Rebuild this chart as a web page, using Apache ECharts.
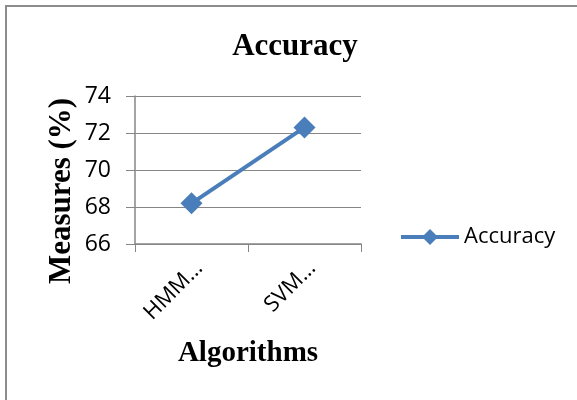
<!DOCTYPE html>
<html>
<head>
<meta charset="utf-8">
<script src="https://cdn.jsdelivr.net/npm/echarts@6/dist/echarts.min.js"></script>
<style>html,body{margin:0;padding:0;background:#fff}#c{width:577px;height:400px}</style>
</head>
<body>
<div id="c"></div>
<script>
var categories = ['HMM…', 'SVM…'];
var accuracy = [68.2, 72.3];
var yTicks = { min: 66, max: 74, interval: 2 };
var seriesName = 'Accuracy';
var chartTitle = 'Accuracy';
var xName = 'Algorithms';
var yName = 'Measures (%)';

var chart = echarts.init(document.getElementById('c'), null, { renderer: 'canvas' });
var serif = '"Liberation Serif", "Times New Roman", serif';
var sans = '"Open Sans", "Liberation Sans", sans-serif';
chart.setOption({
  animation: false,
  backgroundColor: '#fff',
  graphic: [{
    type: 'rect', x: 0, y: 0,
    shape: { x: 6, y: 6, width: 620, height: 440 },
    style: { fill: 'none', stroke: '#8c8c8c', lineWidth: 2 }
  }, {
    type: 'text', x: 62, y: 191, rotation: Math.PI / 2,
    style: {
      text: yName, fontFamily: serif, fontWeight: 'bold', fontSize: 31, fill: '#000',
      align: 'center', verticalAlign: 'middle'
    }
  }],
  title: {
    text: chartTitle, left: 290, top: 26, textAlign: 'center',
    textStyle: { fontFamily: serif, fontWeight: 'bold', fontSize: 31, color: '#000' }
  },
  legend: {
    data: [seriesName], left: 394, top: 221, itemWidth: 58, itemHeight: 20, itemGap: 2,
    lineStyle: { width: 4 },
    textStyle: { fontFamily: sans, fontSize: 22, color: '#000' }
  },
  grid: { left: 135, right: 216, top: 96, bottom: 156, containLabel: false },
  xAxis: {
    type: 'category', data: categories, boundaryGap: true,
    name: xName, nameLocation: 'middle', nameGap: 95,
    nameTextStyle: { fontFamily: serif, fontWeight: 'bold', fontSize: 29, color: '#000' },
    axisLine: { lineStyle: { color: '#868686', width: 1.5 } },
    axisTick: { show: true, length: 8, inside: false, lineStyle: { color: '#868686' } },
    axisLabel: { rotate: 45, fontFamily: sans, fontSize: 22, color: '#000', margin: 13, verticalAlign: 'top' }
  },
  yAxis: {
    type: 'value', min: yTicks.min, max: yTicks.max, interval: yTicks.interval,
    axisLine: { show: true, lineStyle: { color: '#868686', width: 1.5 } },
    axisTick: { show: true, length: 9, inside: false, lineStyle: { color: '#868686' } },
    axisLabel: { fontFamily: sans, fontSize: 23, color: '#000', margin: 24 },
    splitLine: { show: true, lineStyle: { color: '#868686', width: 1 } }
  },
  series: [{
    name: seriesName, type: 'line', data: accuracy,
    symbol: 'diamond', symbolSize: 22,
    lineStyle: { color: '#4A7EBB', width: 4 },
    itemStyle: { color: '#4A7EBB' }
  }]
});
</script>
</body>
</html>
